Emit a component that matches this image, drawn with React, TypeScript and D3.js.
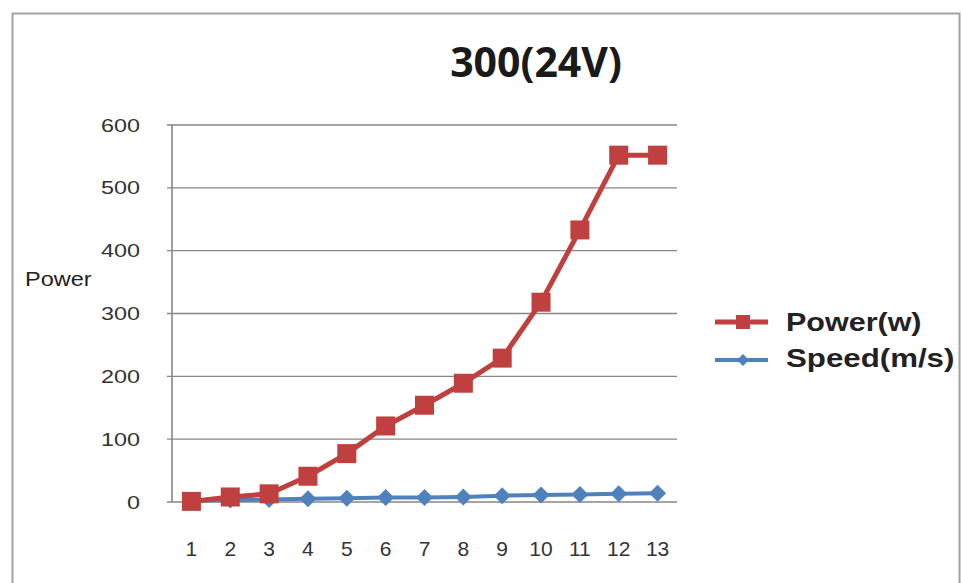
import React from "react";
import * as d3 from "d3";

const categories = ["1", "2", "3", "4", "5", "6", "7", "8", "9", "10", "11", "12", "13"];
const powerValues = [1, 8, 13, 41, 77, 121, 154, 189, 229, 318, 433, 552, 552];
const speedValues = [2, 3, 4, 5, 6, 7, 7, 8, 10, 11, 12, 13, 14];
const yTicks = [0, 100, 200, 300, 400, 500, 600];
const titleText = "300(24V)";
const yAxisLabel = "Power";
const seriesNames = ["Power(w)", "Speed(m/s)"];

const W = 963;
const H = 583;
const plot = { left: 172, right: 677, top: 125, bottom: 502 };
const RED = "#c0403f";
const BLUE = "#4f81bd";
const GRID = "#868686";

function StretchText({ x, y, sx = 1, anchor = "start", size, weight = "normal", family, fill = "#222", children }: any) {
  return (
    <g transform={`translate(${x},${y}) scale(${sx},1)`}>
      <text x={0} y={0} textAnchor={anchor} fontSize={size} fontWeight={weight} fontFamily={family} fill={fill}>
        {children}
      </text>
    </g>
  );
}

export default function App() {
  const x = d3.scaleBand<string>().domain(categories).range([plot.left, plot.right]);
  const cx = (c: string) => (x(c) as number) + x.bandwidth() / 2;
  const y = d3.scaleLinear().domain([0, 600]).range([plot.bottom, plot.top]);

  const line = d3
    .line<number>()
    .x((_, i) => cx(categories[i]))
    .y((d) => y(d));

  const sq = 19;
  const dm = 8.5;
  const diamond = (px: number, py: number, r: number) =>
    `M${px},${py - r}L${px + r},${py}L${px},${py + r}L${px - r},${py}Z`;

  const sans = "'Liberation Sans', Arial, sans-serif";

  return (
    <svg width={W} height={H} style={{ position: "absolute", left: 0, top: 0, background: "#fff" }}>
      <rect x={0} y={0} width={W} height={H} fill="#fff" />
      {/* outer frame */}
      <rect x={12.5} y={13.5} width={947} height={H + 20} fill="none" stroke="#a3a3a3" strokeWidth={2} />

      {/* title */}
      <text x={536} y={77} textAnchor="middle" fontSize={41} fontWeight="bold" fontFamily="'Open Sans', sans-serif" fill="#1a1a1a">
        {titleText}
      </text>

      {/* gridlines */}
      {yTicks.map((t) => (
        <g key={t}>
          <line x1={plot.left - 5} x2={plot.right} y1={y(t)} y2={y(t)} stroke={GRID} strokeWidth={t === 0 ? 1.6 : 1.4} />
          <StretchText x={140} y={y(t) + 6.5} sx={1.3} anchor="end" size={18} family={sans} fill="#333">
            {t}
          </StretchText>
        </g>
      ))}
      <line x1={plot.left} x2={plot.left} y1={plot.top} y2={plot.bottom} stroke={GRID} strokeWidth={1.6} />

      {/* x labels */}
      {categories.map((c) => (
        <StretchText key={c} x={cx(c)} y={556} sx={1.0} anchor="middle" size={21} family={sans} fill="#333">
          {c}
        </StretchText>
      ))}

      {/* y axis label */}
      <StretchText x={25} y={286} sx={1.12} size={21} family={sans} fill="#222">
        {yAxisLabel}
      </StretchText>

      {/* speed series */}
      <path d={line(speedValues) || ""} fill="none" stroke={BLUE} strokeWidth={4} />
      {speedValues.map((v, i) => (
        <path key={i} d={diamond(cx(categories[i]), y(v), dm)} fill={BLUE} />
      ))}

      {/* power series */}
      <path d={line(powerValues) || ""} fill="none" stroke={RED} strokeWidth={5} strokeLinejoin="round" />
      {powerValues.map((v, i) => (
        <rect key={i} x={cx(categories[i]) - sq / 2} y={y(v) - sq / 2} width={sq} height={sq} fill={RED} />
      ))}

      {/* legend */}
      <line x1={715} x2={768} y1={322} y2={322} stroke={RED} strokeWidth={5} />
      <rect x={743 - 7} y={322 - 7} width={14} height={14} fill={RED} />
      <StretchText x={786} y={331} sx={1.22} size={25} weight="bold" family={sans} fill="#222">
        {seriesNames[0]}
      </StretchText>
      <line x1={715} x2={768} y1={360} y2={360} stroke={BLUE} strokeWidth={4} />
      <path d={diamond(743, 360, 6)} fill={BLUE} />
      <StretchText x={786} y={367} sx={1.25} size={25} weight="bold" family={sans} fill="#222">
        {seriesNames[1]}
      </StretchText>
    </svg>
  );
}
